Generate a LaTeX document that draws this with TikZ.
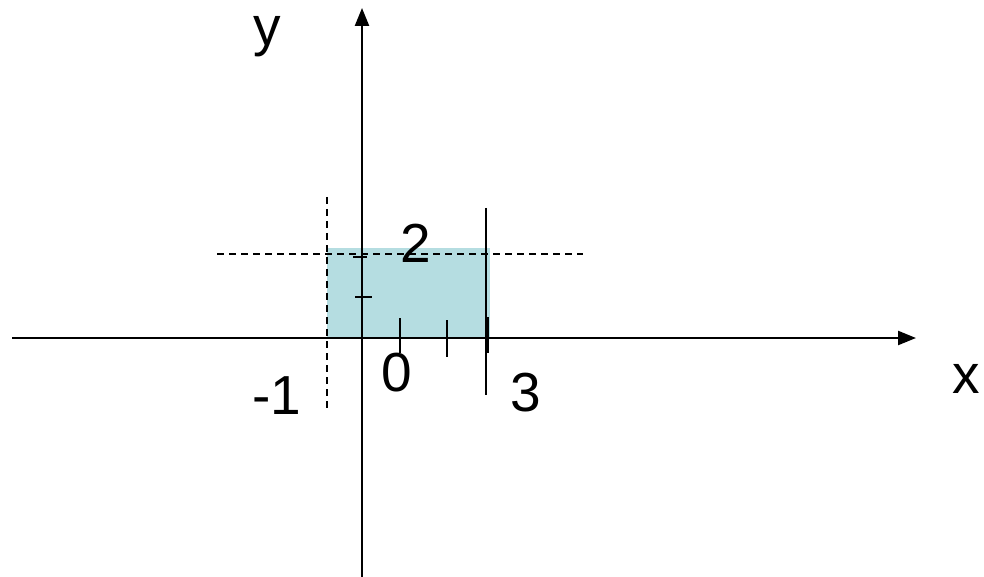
\documentclass[tikz,border=0pt]{standalone}
\usepackage{fontspec}
\setmainfont{Liberation Sans}
\usetikzlibrary{arrows.meta}
\definecolor{areafill}{RGB}{181,221,225}
\begin{document}
\begin{tikzpicture}[x=1pt,y=-1pt,
  axis/.style={line width=2.4pt,-{Triangle[length=18pt,width=14pt]}},
  dline/.style={line width=1.8pt,dash pattern=on 7pt off 5pt},
  tickline/.style={line width=2.2pt},
  lbl/.style={inner sep=0pt,anchor=center,font=\fontsize{55}{60}\selectfont}]
\useasboundingbox (0,0) rectangle (984,577);
% shaded region
\fill[areafill] (327,248) rectangle (490,338);
% axes
\coordinate (xs) at (12,338);
\coordinate (xe) at (916,338);
\coordinate (ys) at (362,577);
\coordinate (ye) at (362,8);
\draw[axis] (xs) -- (xe);
\draw[axis] (ys) -- (ye);
% dashed lines
\coordinate (dv1) at (327,197);
\coordinate (dv2) at (327,412);
\coordinate (dh1) at (217,254);
\coordinate (dh2) at (583,254);
\draw[dline] (dv1) -- (dv2);
\draw[dline] (dh1) -- (dh2);
% solid vertical at x=3
\coordinate (sv1) at (486,208);
\coordinate (sv2) at (486,395);
\draw[line width=2pt] (sv1) -- (sv2);
% ticks
\coordinate (ty1a) at (353,257); \coordinate (ty1b) at (367,257);
\coordinate (ty2a) at (355,297); \coordinate (ty2b) at (372,297);
\coordinate (tx1a) at (400,318); \coordinate (tx1b) at (400,353);
\coordinate (tx2a) at (447,320); \coordinate (tx2b) at (447,357);
\coordinate (tx3a) at (487,317); \coordinate (tx3b) at (487,353);
\draw[tickline] (ty1a) -- (ty1b);
\draw[tickline] (ty2a) -- (ty2b);
\draw[tickline] (tx1a) -- (tx1b);
\draw[tickline] (tx2a) -- (tx2b);
\draw[line width=3.5pt] (tx3a) -- (tx3b);
% labels
\node[lbl] (l2) at (416,243) {2};
\node[lbl] (l0) at (397,373) {0};
\node[lbl] (lm1) at (277,396) {-1};
\node[lbl] (l3) at (526,393) {3};
\node[lbl] (ly) at (267,37) {y};
\node[lbl] (lx) at (966,379) {x};
\end{tikzpicture}
\end{document}
